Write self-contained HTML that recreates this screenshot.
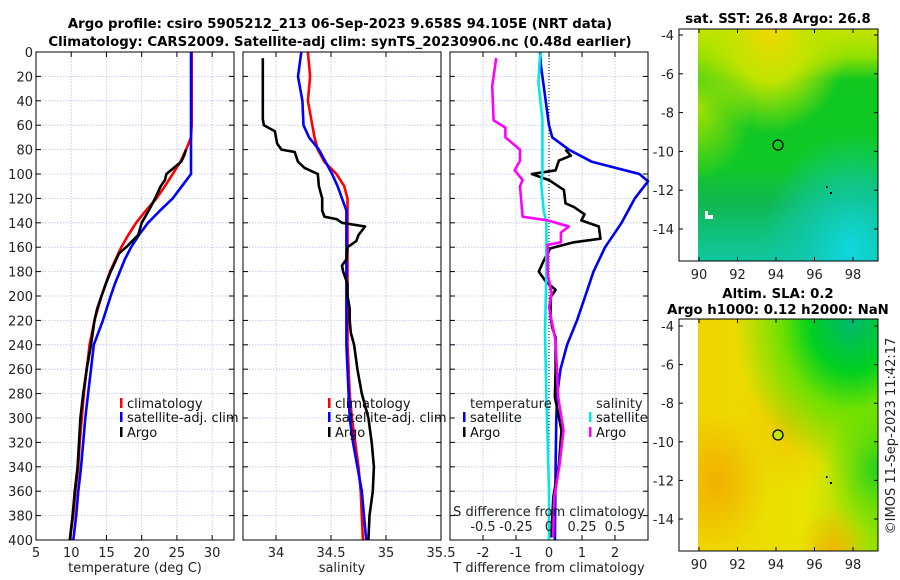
<!DOCTYPE html>
<html><head><meta charset="utf-8"><style>
html,body{margin:0;padding:0;background:#fff}
svg{display:block;font-family:"DejaVu Sans","Liberation Sans",sans-serif}
</style></head><body>
<svg id="fig" width="900" height="580" viewBox="0 0 900 580" xmlns="http://www.w3.org/2000/svg">
<defs>
<radialGradient id="sstTop" cx="0.4" cy="0" r="0.45"><stop offset="0" stop-color="#f0d800"/><stop offset="0.5" stop-color="#c0e400"/><stop offset="1" stop-color="#b8e400" stop-opacity="0"/></radialGradient>
<linearGradient id="sstV" x1="0" y1="0" x2="0" y2="1"><stop offset="0" stop-color="#c8e400"/><stop offset="0.12" stop-color="#90e000"/><stop offset="0.22" stop-color="#10c820"/><stop offset="0.6" stop-color="#10c828"/><stop offset="0.75" stop-color="#10b850"/><stop offset="1" stop-color="#10c8a0"/></linearGradient>
<radialGradient id="sstCyan" cx="0.85" cy="0.95" r="0.5"><stop offset="0" stop-color="#10d8e0"/><stop offset="0.6" stop-color="#10c8b0" stop-opacity="0.6"/><stop offset="1" stop-color="#10c8b0" stop-opacity="0"/></radialGradient>
<radialGradient id="sstLeft" cx="0" cy="0.35" r="0.3"><stop offset="0" stop-color="#a0e000"/><stop offset="1" stop-color="#a0e000" stop-opacity="0"/></radialGradient>
<linearGradient id="slaBase" x1="0" y1="0" x2="1" y2="0"><stop offset="0" stop-color="#f0d400"/><stop offset="0.6" stop-color="#e8e400"/><stop offset="1" stop-color="#90e000"/></linearGradient>
<radialGradient id="slaGreen" cx="0.85" cy="0" r="0.65"><stop offset="0" stop-color="#00b870"/><stop offset="0.35" stop-color="#00d020"/><stop offset="0.6" stop-color="#70e000"/><stop offset="1" stop-color="#70e000" stop-opacity="0"/></radialGradient>
<radialGradient id="slaGreen2" cx="1" cy="0.65" r="0.3"><stop offset="0" stop-color="#20d020"/><stop offset="1" stop-color="#60e000" stop-opacity="0"/></radialGradient>
<radialGradient id="slaOr1" cx="0.1" cy="0.7" r="0.3"><stop offset="0" stop-color="#f0b000"/><stop offset="1" stop-color="#f0b000" stop-opacity="0"/></radialGradient>
<radialGradient id="slaOr2" cx="0.5" cy="0.45" r="0.3"><stop offset="0" stop-color="#f0c800"/><stop offset="1" stop-color="#f0c800" stop-opacity="0"/></radialGradient>
<radialGradient id="slaOr3" cx="0.75" cy="1" r="0.2"><stop offset="0" stop-color="#f0b800"/><stop offset="1" stop-color="#f0b800" stop-opacity="0"/></radialGradient>
</defs>
<g id="titles">
<text x="340" y="28" text-anchor="middle" font-size="13.3" font-weight="bold">Argo profile: csiro 5905212_213 06-Sep-2023 9.658S 94.105E (NRT data)</text>
<text x="340" y="46" text-anchor="middle" font-size="13.3" font-weight="bold">Climatology: CARS2009. Satellite-adj clim: synTS_20230906.nc (0.48d earlier)</text>
</g>
<g id="panels"></g>
<g id="maps">
<text x="778" y="23" text-anchor="middle" font-size="13.3" font-weight="bold">sat. SST: 26.8 Argo: 26.8</text>
<rect x="698" y="29" width="180" height="232" fill="url(#sstV)"/>
<rect x="698" y="29" width="180" height="232" fill="url(#sstLeft)"/>
<rect x="698" y="29" width="180" height="232" fill="url(#sstTop)"/>
<rect x="698" y="29" width="180" height="232" fill="url(#sstCyan)"/>
<rect x="705" y="215" width="8" height="4" fill="#fff"/><rect x="705" y="211" width="3" height="6" fill="#fff"/>
<circle cx="778" cy="145" r="5" fill="none" stroke="#000" stroke-width="1.3"/>
<rect x="826" y="186" width="1.5" height="2" fill="#000"/><rect x="830" y="192" width="2" height="2" fill="#000"/>
<rect x="679" y="29" width="199" height="232" fill="none" stroke="#000" stroke-width="1"/>
<text x="778" y="298" text-anchor="middle" font-size="13.3" font-weight="bold">Altim. SLA: 0.2</text>
<text x="778" y="314" text-anchor="middle" font-size="13.3" font-weight="bold">Argo h1000: 0.12 h2000: NaN</text>
<rect x="698" y="319" width="180" height="232" fill="url(#slaBase)"/>
<rect x="698" y="319" width="180" height="232" fill="url(#slaOr1)"/>
<rect x="698" y="319" width="180" height="232" fill="url(#slaOr2)"/>
<rect x="698" y="319" width="180" height="232" fill="url(#slaOr3)"/>
<rect x="698" y="319" width="180" height="232" fill="url(#slaGreen)"/>
<rect x="698" y="319" width="180" height="232" fill="url(#slaGreen2)"/>
<circle cx="778" cy="435" r="5" fill="#c0e800" stroke="#000" stroke-width="1.3"/>
<rect x="826" y="476" width="1.5" height="2" fill="#000"/><rect x="830" y="482" width="2" height="2" fill="#000"/>
<rect x="679" y="319" width="199" height="232" fill="none" stroke="#000" stroke-width="1"/>
<text transform="translate(895,436) rotate(-90)" text-anchor="middle" font-size="13" fill="#222">©IMOS 11-Sep-2023 11:42:17</text>
</g>
</svg>
<script>
// ---- data (depth in m) ----
const climDepth = [0,20,40,60,70,80,90,100,110,120,130,140,150,160,170,180,190,200,220,240,260,280,300,320,340,360,380,400];
const climTemp  = [27.1,27.1,27.1,27.1,27.0,26.3,25.5,24.4,23.3,22.1,20.6,19.2,18.1,17.1,16.3,15.5,14.9,14.3,13.3,12.6,12.2,11.8,11.5,11.2,11.0,10.6,10.3,9.8];
const satTemp   = [27.0,27.0,27.0,27.0,27.0,27.0,27.0,27.0,25.7,24.4,22.6,20.9,19.6,18.5,17.6,16.9,16.2,15.6,14.5,13.2,12.8,12.4,12.0,11.7,11.4,11.0,10.7,10.3];
const argoTDepth = [80,85,90,100,105,110,120,130,140,150,160,165,170,180,190,200,210,220,240,260,280,300,320,340,360,380,400];
const argoTemp   = [26.3,26.0,25.6,23.5,23.3,22.7,21.9,21.0,20.0,19.5,17.8,16.8,16.4,15.6,14.9,14.3,13.7,13.3,12.8,12.2,11.7,11.3,11.1,10.9,10.5,10.2,9.8];
const climSal = [34.29,34.31,34.29,34.33,34.35,34.38,34.44,34.55,34.62,34.65,34.65,34.65,34.65,34.65,34.65,34.65,34.65,34.65,34.65,34.65,34.66,34.67,34.69,34.72,34.75,34.77,34.78,34.79];
const satSal  = [34.23,34.20,34.24,34.25,34.30,34.39,34.45,34.51,34.56,34.60,34.64,34.64,34.64,34.64,34.64,34.64,34.64,34.64,34.64,34.64,34.65,34.66,34.67,34.70,34.74,34.78,34.80,34.82];
const argoSDepth = [5,55,60,65,75,80,82,90,95,100,110,120,130,135,137,140,143,150,155,160,170,175,180,190,200,210,220,230,240,260,280,300,320,340,360,380,400];
const argoSal    = [33.88,33.88,33.89,33.99,34.01,34.05,34.17,34.20,34.26,34.38,34.39,34.42,34.42,34.44,34.55,34.60,34.81,34.75,34.73,34.65,34.64,34.60,34.61,34.65,34.65,34.67,34.67,34.68,34.71,34.74,34.78,34.84,34.87,34.89,34.88,34.85,34.84];
const dTsatDepth = [0,10,20,40,60,70,80,90,100,106,120,140,160,180,200,220,240,260,280,300,340,400];
const dTsat      = [-0.27,-0.25,-0.2,-0.1,0,0.1,0.6,1.3,2.74,3.0,2.6,2.2,1.7,1.35,1.1,0.85,0.55,0.35,0.25,0.22,0.2,0.18];
const dTargoDepth = [80,85,89,97,100,105,113,124,127,133,138,143,153,156,161,171,180,188,195,201,217,226,234,260,283,310,338,365,398];
const dTargo      = [0.5,0.66,0.3,0.2,-0.52,0.0,0.45,0.5,0.75,1.08,0.98,1.51,1.56,0.75,0.04,-0.16,-0.31,-0.1,0.2,0.05,0.05,0.1,0.2,0.2,0.18,0.38,0.3,0.13,0.07];
const dSsatDepth = [0,5,25,55,90,100,107,130,140,180,230,283,320,360,400];
const dSsat      = [-0.06,-0.07,-0.08,-0.05,-0.05,-0.05,-0.06,-0.04,-0.02,-0.02,-0.03,-0.02,-0.01,0.0,0.0];
const dSargoDepth = [5,28,56,62,70,80,89,97,105,110,135,138,143,148,156,158,182,198,209,237,260,283,310,338,365,398];
const dSargo      = [-0.40,-0.43,-0.42,-0.33,-0.33,-0.22,-0.22,-0.26,-0.20,-0.22,-0.20,-0.01,0.15,0.09,0.09,-0.01,-0.01,0.02,0.0,0.05,0.06,0.07,0.11,0.08,0.04,0.03];
const depthTicks = [0,20,40,60,80,100,120,140,160,180,200,220,240,260,280,300,320,340,360,380,400];
const tempTicks = [5,10,15,20,25,30];
const salTicks = [34,34.5,35,35.5];
const dTTicks = [-2,-1,0,1,2];
const dSTicks = [-0.5,-0.25,0,0.25,0.5];
const dSTickLabels = ['-0.5','-0.25','0','0.25','0.5'];
const latTicks = [-4,-6,-8,-10,-12,-14];
const lonTicks = [90,92,94,96,98];

const NS = 'http://www.w3.org/2000/svg';
const root = document.getElementById('panels');
const maps = document.getElementById('maps');
function mk(tag, attrs, parent){const e=document.createElementNS(NS,tag);for(const k in attrs)e.setAttribute(k,attrs[k]);(parent||root).appendChild(e);return e;}
const Y0=52, Y1=540;
const yD = d => Y0 + d/400*(Y1-Y0);
function lin(d0,d1,p0,p1){return v=>p0+(v-d0)/(d1-d0)*(p1-p0);}
const xT = lin(5,33.1,36,234);
const xS = lin(33.7,35.5,243,441);
const xdT = lin(-3,3,450,648);
const xdS = lin(-0.75,0.75,450,648);

function panel(name,x0,x1,xf,ticks,labels,showY){
  const g=mk('g',{});
  
  
  ticks.forEach(t=>{const x=xf(t);
    mk('line',{x1:x,x2:x,y1:Y0,y2:Y1,stroke:'#b8c4ec','stroke-width':0.8,'stroke-dasharray':'1.5,1.5'},g);
    mk('line',{x1:x,x2:x,y1:Y1,y2:Y1-5,stroke:'#000'},g);mk('line',{x1:x,x2:x,y1:Y0,y2:Y0+5,stroke:'#000'},g);});
  depthTicks.forEach(d=>{const y=yD(d);
    mk('line',{x1:x0,x2:x1,y1:y,y2:y,stroke:'#b8c4ec','stroke-width':0.8,'stroke-dasharray':'1.5,1.5'},g);
    mk('line',{x1:x0,x2:x0+5,y1:y,y2:y,stroke:'#000'},g);mk('line',{x1:x1,x2:x1-5,y1:y,y2:y,stroke:'#000'},g);
    if(showY){const t=mk('text',{x:x0-3,y:y+5,'text-anchor':'end','font-size':13,fill:'#222'},g);t.textContent=d;
      
      }});
  if(labels) ticks.forEach((t,i)=>{const tx=mk('text',{x:xf(t),y:Y1+17,'text-anchor':'middle','font-size':13,fill:'#222'},g);tx.textContent=labels[i];
    
    });
  return g;
}
function frame(x0,x1){const r=mk('rect',{x:x0,y:Y0,width:x1-x0,height:Y1-Y0,fill:'none',stroke:'#000','stroke-width':1});
  
  }
function line(xs,ds,xf,color,name,w){
  const pts=xs.map((v,i)=>xf(v).toFixed(1)+','+yD(ds[i]).toFixed(1)).join(' ');
  const p=mk('polyline',{points:pts,fill:'none',stroke:color,'stroke-width':w||2.6,'stroke-linejoin':'round'});
  
  
}
function legItem(x,y,color,label,name){
  const g=mk('g',{});
  
  
  mk('rect',{x:x,y:y-10,width:2.5,height:10,fill:color},g);
  const t=mk('text',{x:x+7,y:y,'font-size':13,fill:'#111'},g);t.textContent=label;
}
function text(x,y,s,name,anchor){const t=mk('text',{x:x,y:y,'font-size':13,fill:'#222','text-anchor':anchor||'middle'});t.textContent=s;
  
  }

// Panel 1: temperature
panel('temperature-panel',36,234,xT,tempTicks,tempTicks.map(String),true);
line(climTemp,climDepth,xT,'#ff0000','temp-climatology-line');
line(satTemp,climDepth,xT,'#0000ff','temp-satellite-line');
line(argoTemp,argoTDepth,xT,'#000000','temp-argo-line');
frame(36,234);
text(135,572,'temperature (deg C)','temperature-axis-title');
legItem(120,408,'#ff0000','climatology','legend-climatology');
legItem(120,422,'#0000ff','satellite-adj. clim','legend-satellite');
legItem(120,437,'#000000','Argo','legend-argo');

// Panel 2: salinity
panel('salinity-panel',243,441,xS,salTicks,['34','34.5','35','35.5'],false);
line(climSal,climDepth,xS,'#ff0000','sal-climatology-line');
line(satSal,climDepth,xS,'#0000ff','sal-satellite-line');
line(argoSal,argoSDepth,xS,'#000000','sal-argo-line');
frame(243,441);
text(342,572,'salinity','salinity-axis-title');
legItem(328,408,'#ff0000','climatology','legend-climatology-2');
legItem(328,422,'#0000ff','satellite-adj. clim','legend-satellite-2');
legItem(328,437,'#000000','Argo','legend-argo-2');

// Panel 3: differences
panel('difference-panel',450,648,xdT,dTTicks,dTTicks.map(String),false);
const z=mk('line',{x1:xdT(0),x2:xdT(0),y1:Y0,y2:Y1,stroke:'#000','stroke-width':1,'stroke-dasharray':'1,2'});


line(dTsat,dTsatDepth,xdT,'#0000ee','dT-satellite-line');
line(dTargo,dTargoDepth,xdT,'#000000','dT-argo-line');
line(dSsat,dSsatDepth,xdS,'#00e8e8','dS-satellite-line');
line(dSargo,dSargoDepth,xdS,'#ff00ff','dS-argo-line');
frame(450,648);
text(549,572,'T difference from climatology','dT-axis-title');
text(549,516,'S difference from climatology','dS-axis-title');
dSTicks.forEach((t,i)=>text(xdS(t),531,dSTickLabels[i],'dS-tick-label'));
text(470,408,'temperature','legend-temperature-heading','start');
text(596,408,'salinity','legend-salinity-heading','start');
legItem(463,422,'#0000ff','satellite','legend-dT-satellite');
legItem(463,437,'#000000','Argo','legend-dT-argo');
legItem(589,422,'#00e8e8','satellite','legend-dS-satellite');
legItem(589,437,'#ff00ff','Argo','legend-dS-argo');

// Map axes
function mapAxes(top,lat4,lat14,name){
  const ly=lin(-4,-14,lat4,lat14), lx=lin(90,98,699,853);
  latTicks.forEach(v=>{const y=ly(v);
    mk('line',{x1:679,x2:683,y1:y,y2:y,stroke:'#000'},maps);mk('line',{x1:878,x2:874,y1:y,y2:y,stroke:'#000'},maps);
    const t=mk('text',{x:674,y:y+5,'text-anchor':'end','font-size':13,fill:'#222'},maps);t.textContent=v;
    
    });
  lonTicks.forEach(v=>{const x=lx(v);
    mk('line',{x1:x,x2:x,y1:top+232,y2:top+228,stroke:'#000'},maps);mk('line',{x1:x,x2:x,y1:top,y2:top+4,stroke:'#000'},maps);
    const t=mk('text',{x:x,y:top+250,'text-anchor':'middle','font-size':13,fill:'#222'},maps);t.textContent=v;
    
    });
}
mapAxes(29,35,229,'sst');
mapAxes(319,326,519,'sla');
</script>
</body></html>
